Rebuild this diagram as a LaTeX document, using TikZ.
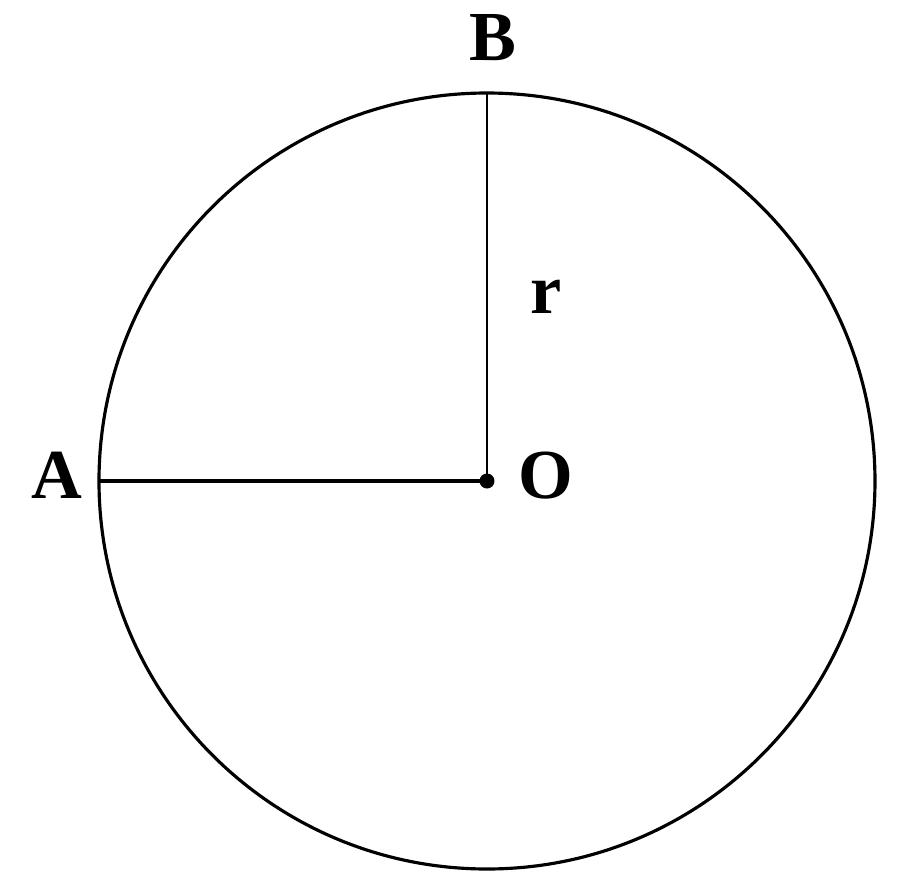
\documentclass[tikz,border=0pt]{standalone}
\usepackage{fontspec}
\setmainfont{Liberation Serif}
\usepackage{tikz}

\begin{document}
\begin{tikzpicture}[line width=0.9pt,
    lab/.style={anchor=base,inner sep=0pt,font=\fontsize{20}{24}\selectfont\bfseries}]
    \useasboundingbox (-4.87,-4.10) rectangle (4.13,4.81);
    \draw (0,0) circle[radius=3.88cm];
    \coordinate (O) at (0,0);
    \coordinate (A) at (180:3.88);
    \coordinate (B) at (90:3.88);
    \draw (A) -- (O);
    \draw[line width=0.7pt] (B) -- (O);
    \fill (O) circle[radius=0.075];
    \node[lab] (labB) at (0.06,4.21) {B};
    \node[lab] (labA) at (-4.30,-0.17) {A};
    \node[lab] (labO) at (0.59,-0.17) {O};
    \node[lab] (labr) at (0.59,1.68) {r};
  \end{tikzpicture}
\end{document}
